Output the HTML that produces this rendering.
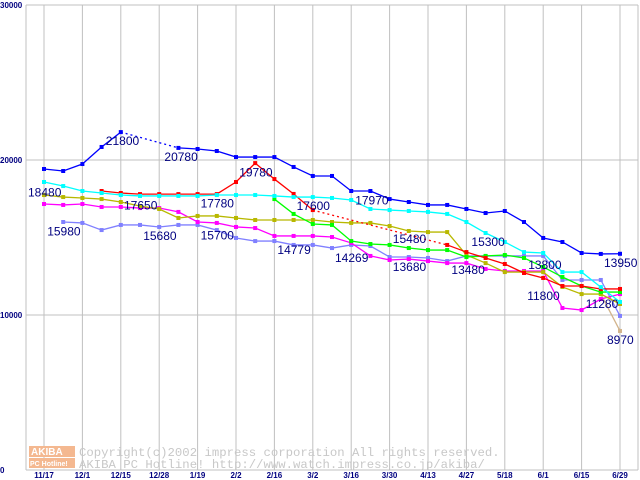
<!DOCTYPE html>
<html><head><meta charset="utf-8"><style>
body{margin:0;background:#fff}
svg{display:block;font-family:"Liberation Sans",sans-serif}
</style></head><body>
<svg id="chart" width="640" height="480" viewBox="0 0 640 480">
<g id="grid"></g>
<g id="watermark">
<rect x="29" y="446" width="46" height="11" fill="#f4b890"/>
<text x="31" y="455" font-size="10" fill="#fff" font-weight="bold">AKIBA</text>
<rect x="29" y="458" width="46" height="10" fill="#f4b890"/>
<text x="30" y="466" font-size="7" fill="#fff" font-weight="bold">PC Hotline!</text>
<text x="79" y="456" font-size="12.3" fill="#c8c8c8" font-family="Liberation Mono,monospace">Copyright(c)2002 impress corporation All rights reserved.</text>
<text x="79" y="468" font-size="12.3" fill="#c8c8c8" font-family="Liberation Mono,monospace">AKIBA PC Hotline!  http://www.watch.impress.co.jp/akiba/</text>
</g>
<g id="series"></g>
<g id="labels"></g>
</svg>
<script>
const xLabels=["11/17","12/1","12/15","12/28","1/19","2/2","2/16","3/2","3/16","3/30","4/13","4/27","5/18","6/1","6/15","6/29"];
const yTicks=[0,10000,20000,30000];
const N=null;
const blue=[19420,19290,19740,20840,21800,N,N,20780,20710,20580,20190,20190,20190,19550,18970,18970,18000,18000,17480,17290,17100,17100,16840,16580,16710,16000,14970,14710,14000,13940,13950];
const cyan=[18580,18320,18000,17870,17740,17680,17680,17680,17680,17740,17740,17740,17680,17610,17610,17550,17420,16840,16770,16710,16650,16520,16000,15290,14710,14060,14000,12770,12770,11800,10840];
const red=[N,N,N,18000,17870,17800,17800,17800,17800,17800,18580,19800,18770,17810,16770,N,N,N,N,N,N,14520,14060,13680,13290,12710,12390,11870,11870,11680,11680];
const olive=[17740,17610,17550,17480,17290,17030,16840,16260,16390,16390,16260,16130,16130,16130,16130,16000,15940,15940,15740,15420,15350,15350,13870,13350,12770,12770,12770,11810,11350,11350,10710];
const green=[N,N,N,N,N,N,N,N,N,N,N,N,17480,16520,15870,15810,14770,14580,14520,14320,14190,14190,13740,13810,13870,13680,13100,12450,11870,11480,11480];
const magenta=[17160,17100,17160,16970,16970,16900,16900,16650,16000,15940,15680,15610,15100,15100,15100,15030,14650,13810,13550,13610,13480,13350,13350,12970,12840,12840,12840,10450,10320,11030,11350];
const lightblue=[N,16000,15940,15480,15810,15810,15680,15810,15810,15480,14970,14770,14770,14520,14520,14320,14520,14450,13740,13740,13680,13480,13810,13810,13810,13810,13810,12260,12260,12260,9940];
const tan=[N,N,N,N,N,N,N,N,N,N,N,N,N,N,N,N,N,N,N,N,N,N,N,N,N,N,N,N,N,11350,8970];
const dottedGaps={blue:[4,7],red:[14,21]};
const seriesList=[["lightblue",lightblue,"#8080ff"],["tan",tan,"#d2b48c"],["magenta",magenta,"#ff00ff"],["olive",olive,"#b8b800"],["green",green,"#00ff00"],["red",red,"#ff0000"],["cyan",cyan,"#00ffff"],["blue",blue,"#0000ff"]];
const annLabels=["21800","20780","19780","18480","17650","17780","17600","15980","15680","15700","14779","17970","15480","15300","14269","13680","13480","13800","11800","11280","13950","8970"];
const annIdx=[4,7,11,0,5,8,13,1,6,8,12,16,19,22,15,19,22,26,26,29,30,30];
const annVal=[21800,20780,19780,18480,17650,17780,17600,15980,15680,15700,14779,17970,15480,15300,14269,13680,13480,13800,11800,11280,13950,8970];
const annDx=[-15,-14,-16,-16,-16,3,3,-16,-16,3,3,4,-16,5,3,-16,-15,-15,-16,-15,-16,-13];
const ns="http://www.w3.org/2000/svg";
const X=i=>44+i*19.2, Y=v=>470-v*0.0155;
function mk(tag,attrs,parent){const e=document.createElementNS(ns,tag);for(const k in attrs)e.setAttribute(k,attrs[k]);parent.appendChild(e);return e;}
const grid=document.getElementById('grid');
yTicks.forEach(t=>{
 const l=mk('line',{x1:26,x2:638,y1:Y(t),y2:Y(t),stroke:'#c0c0c0'},grid);
 
 
 const tx=mk('text',{x:0,y:Y(t)+3,'font-size':8,fill:'#000080','font-weight':'bold'},grid);
 tx.textContent=t;
 
 
});
mk('line',{x1:26,x2:26,y1:5,y2:470,stroke:'#c0c0c0'},grid);
mk('line',{x1:638,x2:638,y1:5,y2:470,stroke:'#c0c0c0'},grid);
xLabels.forEach((s,k)=>{
 const x=X(k*2);
 const l=mk('line',{x1:x,x2:x,y1:5,y2:470,stroke:'#c0c0c0'},grid);
 
 
 const tx=mk('text',{x:x,y:478,'font-size':8,fill:'#000080','font-weight':'bold','text-anchor':'middle'},grid);
 tx.textContent=s;
 
 
});
const sg=document.getElementById('series');
seriesList.forEach(([name,vals,col])=>{
 const g=mk('g',{},sg);
 
 
 let seg=[];
 const flush=()=>{if(seg.length>1)mk('polyline',{points:seg.join(' '),fill:'none',stroke:col,'stroke-width':1.3},g);seg=[];};
 vals.forEach((v,i)=>{if(v==null){flush();return;}seg.push(X(i)+','+Y(v));});
 flush();
 const gap=dottedGaps[name];
 if(gap){mk('line',{x1:X(gap[0]),y1:Y(vals[gap[0]]),x2:X(gap[1]),y2:Y(vals[gap[1]]),stroke:col,'stroke-width':1.3,'stroke-dasharray':'2,3'},g);}
 vals.forEach((v,i)=>{if(v==null)return;
  const p=mk('rect',{x:X(i)-2,y:Y(v)-2,width:4,height:4,fill:col},g);
  
  
 });
});
const lg=document.getElementById('labels');
annLabels.forEach((s,k)=>{
 const tx=mk('text',{x:X(annIdx[k])+annDx[k],y:Y(annVal[k])+13,'font-size':12,fill:'#000080'},lg);
 tx.textContent=s;
 
 
});
</script>
</body></html>
